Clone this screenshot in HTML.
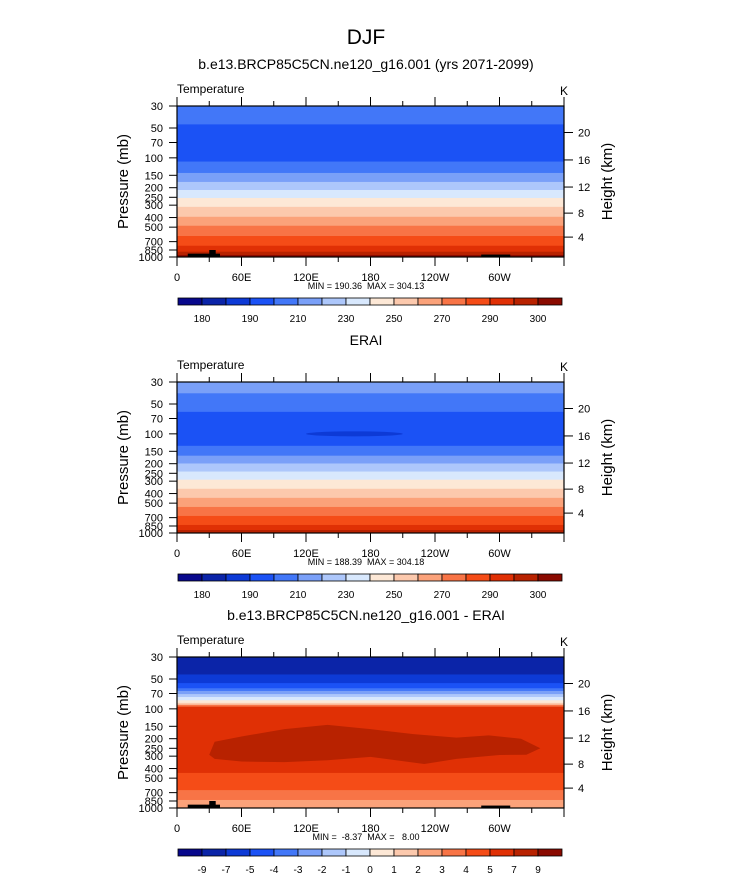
<!DOCTYPE html>
<html><head><meta charset="utf-8"><style>
html,body{margin:0;padding:0;background:#fff;}
svg{display:block;font-family:"Liberation Sans",Arial,sans-serif;}
</style></head><body>
<svg id="fig" width="733" height="873" viewBox="0 0 733 873" xmlns="http://www.w3.org/2000/svg">
<text x="366" y="44" font-size="21" text-anchor="middle">DJF</text>
</svg>
<script>
const palette=["#08088c","#0b24a8","#0d3ad6","#1b52f5","#4277f8","#7aa0f8","#adc7fb","#d8e8fd","#fde8d6","#fcc9ad","#fba27a","#f87446","#f54c17","#e03005","#b82200","#8a0a00"];
const lonTicks=[0,60,120,180,240,300];
const lonLabels=["0","60E","120E","180","120W","60W"];
const pTicks=[30,50,70,100,150,200,250,300,400,500,700,850,1000];
const hLabels=[20,16,12,8,4];
const hPress=[55.5,105,197,361,630];
// panel 1 model
const p1Bounds=[30,46,109,142,175,211,254,312,393,484,614,770,884,954,1000];
const p1Colors=[5,4,5,6,7,8,9,10,11,12,13,14,15,16];
// panel 2 ERAI
const p2Bounds=[30,39,60,132,166,199,240,290,358,442,546,673,830,933,1000];
const p2Colors=[6,5,4,5,6,7,8,9,10,11,12,13,14,15];
// panel 3 difference
const p3Bounds=[30,45,55,62,66,71,76,82,87,91,95,443,660,830,1000];
const p3Colors=[2,3,4,5,6,7,8,9,10,12,14,13,12,11];
const blobLon=[30,35,60,100,140,180,220,260,290,320,338,325,300,260,230,180,140,100,60,35];
const blobP=[290,215,190,160,145,160,180,195,185,200,250,290,292,320,360,305,330,345,340,320];
const tempLabels=["180","190","210","230","250","270","290","300"];
const diffLabels=["-9","-7","-5","-4","-3","-2","-1","0","1","2","3","4","5","7","9"];

const svg=document.getElementById('fig');
const NS="http://www.w3.org/2000/svg";
function mk(tag,attrs,parent){const e=document.createElementNS(NS,tag);for(const k in attrs)e.setAttribute(k,attrs[k]);(parent||svg).appendChild(e);return e;}
const X0=177,W=387,H=151;
function xs(lon){return X0+lon/360*W;}
function ys(top,p){return top+Math.log(p/30)/Math.log(1000/30)*H;}

function panel(top,subtitle,bounds,colors,extra,labels,minmax,name){
  const g=mk('g',{});
  
  
  if(subtitle){const t=mk('text',{x:366,y:top-37,'font-size':14,'text-anchor':'middle'},g);t.textContent=subtitle;
    }
  const tl=mk('text',{x:X0,y:top-13,'font-size':12},g);tl.textContent='Temperature';
  
  const k=mk('text',{x:560,y:top-11,'font-size':12},g);k.textContent='K';
  
  for(let i=0;i<colors.length;i++){
    const y1=ys(top,bounds[i]),y2=ys(top,bounds[i+1]);
    const r=mk('rect',{x:X0,y:y1,width:W,height:y2-y1+0.5,fill:palette[colors[i]-1]},g);
    
  }
  if(extra)extra(g,top);
  const f=mk('rect',{x:X0,y:top,width:W,height:H,fill:'none',stroke:'#000','stroke-width':1.2},g);
  
  for(let lon=0;lon<=360;lon+=30){
    const major=lon%60===0,L=major?9:5,x=xs(lon);
    mk('line',{x1:x,x2:x,y1:top,y2:top-L,stroke:'#000'},g);
    mk('line',{x1:x,x2:x,y1:top+H,y2:top+H+L,stroke:'#000'},g);
  }
  lonTicks.forEach((lon,i)=>{const t=mk('text',{x:xs(lon),y:top+H+24,'font-size':11,'text-anchor':'middle'},g);t.textContent=lonLabels[i];
    });
  pTicks.forEach(p=>{const y=ys(top,p);mk('line',{x1:X0,x2:X0-8,y1:y,y2:y,stroke:'#000'},g);
    const t=mk('text',{x:X0-14,y:y+4,'font-size':11,'text-anchor':'end'},g);t.textContent=p;
    });
  hPress.forEach((p,i)=>{const y=ys(top,p);mk('line',{x1:X0+W,x2:X0+W+9,y1:y,y2:y,stroke:'#000'},g);
    const t=mk('text',{x:X0+W+14,y:y+4,'font-size':11},g);t.textContent=hLabels[i];
    });
  const yl=mk('text',{x:0,y:0,'font-size':15,'text-anchor':'middle',transform:`translate(128,${top+H/2}) rotate(-90)`},g);yl.textContent='Pressure (mb)';
  
  const yr=mk('text',{x:0,y:0,'font-size':15,'text-anchor':'middle',transform:`translate(612,${top+H/2}) rotate(-90)`},g);yr.textContent='Height (km)';
  
  const mm=mk('text',{x:366,y:top+H+32,'font-size':9,'text-anchor':'middle'},g);mm.textContent=minmax;mm.setAttribute('xml:space','preserve');mm.style.whiteSpace='pre';
  
  // colorbar
  const cy=top+192,cw=24;
  for(let i=0;i<16;i++){const r=mk('rect',{x:178+i*cw,y:cy,width:cw,height:7,fill:palette[i],stroke:'#000','stroke-width':0.8},g);
    }
  const step=labels.length===8?2:1;
  labels.forEach((l,i)=>{const b=1+i*step;const t=mk('text',{x:178+b*cw,y:cy+24,'font-size':10,'text-anchor':'middle'},g);t.textContent=l;
    });
}
function topo(g,top){
  [[10,40,925],[30,36,850],[283,310,945]].forEach(b=>{const y=ys(top,b[2]);
    const r=mk('rect',{x:xs(b[0]),y:y,width:xs(b[1])-xs(b[0]),height:top+H-y,fill:'#000'},g);
    });
}
panel(106,'b.e13.BRCP85C5CN.ne120_g16.001 (yrs 2071-2099)',p1Bounds,p1Colors,topo,tempLabels,'MIN = 190.36  MAX = 304.13','panel-model');
panel(382,'ERAI',p2Bounds,p2Colors,(g,top)=>{
  const e=mk('ellipse',{cx:xs(165),cy:ys(top,100),rx:xs(210)-xs(165),ry:2.5,fill:palette[2]},g);
  
},tempLabels,'MIN = 188.39  MAX = 304.18','panel-erai');
panel(657,'b.e13.BRCP85C5CN.ne120_g16.001 - ERAI',p3Bounds,p3Colors,(g,top)=>{
  const pts=blobLon.map((l,i)=>xs(l)+','+ys(top,blobP[i])).join(' ');
  const p=mk('polygon',{points:pts,fill:palette[14]},g);
  
  topo(g,top);
},diffLabels,'MIN =  -8.37  MAX =   8.00','panel-difference');
</script>
</body></html>
